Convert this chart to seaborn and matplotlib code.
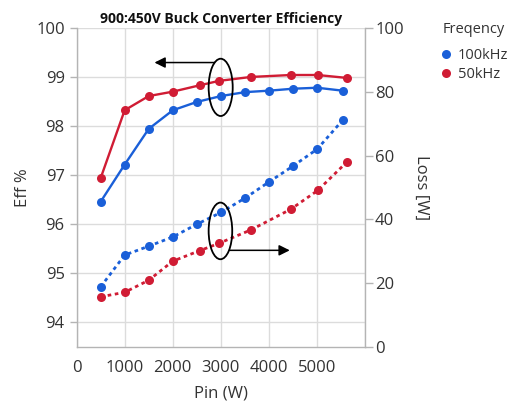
import matplotlib
matplotlib.use('Agg')
import matplotlib.pyplot as plt
import seaborn as sns
import pandas as pd
from matplotlib.patches import Ellipse
from matplotlib.lines import Line2D

# ---- data ----
freqs = ['100kHz', '50kHz']
pin_100 = [500, 1000, 1500, 2000, 2500, 3000, 3500, 4000, 4500, 5000, 5530]
eff_100 = [96.46, 97.22, 97.95, 98.33, 98.50, 98.62, 98.70, 98.73, 98.77, 98.79, 98.73]
loss_100 = [18.8, 28.8, 31.6, 34.5, 38.5, 42.2, 46.7, 51.8, 56.8, 62.1, 71.2]
pin_50 = [500, 1000, 1500, 2000, 2560, 2960, 3620, 4450, 5010, 5620]
eff_50 = [96.94, 98.33, 98.62, 98.71, 98.84, 98.93, 99.01, 99.05, 99.05, 98.99]
loss_50 = [15.7, 17.1, 20.9, 26.9, 30.2, 32.5, 36.7, 43.2, 49.1, 58.1]
x_ticks = [0, 1000, 2000, 3000, 4000, 5000]
eff_ticks = [94, 95, 96, 97, 98, 99, 100]
loss_ticks = [0, 20, 40, 60, 80, 100]

df = pd.concat([
    pd.DataFrame({'Pin': pin_100, 'Eff': eff_100, 'Loss': loss_100, 'Freqency': freqs[0]}),
    pd.DataFrame({'Pin': pin_50, 'Eff': eff_50, 'Loss': loss_50, 'Freqency': freqs[1]}),
], ignore_index=True)

sns.set_style('white')
plt.rcParams['font.family'] = ['Open Sans', 'DejaVu Sans']
palette = {'100kHz': '#1a5fd8', '50kHz': '#d01c34'}
txt = '#333333'
spine_c = '#b4b4b4'

fig = plt.figure(figsize=(5.17, 4.07), dpi=100)
ax = fig.add_axes([0.148, 0.148, 0.7066 - 0.148, 0.930 - 0.148])
ax2 = ax.twinx()

sns.lineplot(data=df, x='Pin', y='Eff', hue='Freqency', palette=palette, marker='o',
             markersize=6.5, markeredgewidth=0, linewidth=1.7, ax=ax, legend=False, sort=False)
sns.lineplot(data=df, x='Pin', y='Loss', hue='Freqency', palette=palette, marker='o',
             markersize=6.5, markeredgewidth=0, linewidth=2.0, linestyle=(0, (1.3, 1.3)),
             ax=ax2, legend=False, sort=False)

ax.set_xlim(0, 6000)
ax.set_ylim(93.5, 100)
ax2.set_ylim(0, 100)
ax.set_xticks(x_ticks + [6000])
ax.set_xticklabels([str(t) for t in x_ticks] + [''])
ax.set_yticks(eff_ticks)
ax2.set_yticks(loss_ticks)

ax.grid(True, color='#dcdcdc', linewidth=1)
ax2.grid(False)
ax.set_axisbelow(True)

for a in (ax, ax2):
    a.spines['top'].set_visible(False)
    for s in ('left', 'right', 'bottom'):
        a.spines[s].set_color(spine_c)
        a.spines[s].set_linewidth(1)
ax.spines['right'].set_visible(False)
ax2.spines['left'].set_visible(False)
ax2.spines['bottom'].set_visible(False)

ax.tick_params(axis='both', labelsize=12, labelcolor=txt, colors=spine_c, length=6, width=1, direction='out')
ax.tick_params(axis='y', length=5)
ax2.tick_params(axis='y', labelsize=12, labelcolor=txt, colors=spine_c, length=6, width=1, pad=1)
for lab in ax.get_xticklabels() + ax.get_yticklabels() + ax2.get_yticklabels():
    lab.set_color(txt)

ax.set_xlabel('Pin (W)', fontsize=12, color=txt, labelpad=7)
ax.set_ylabel('Eff %', fontsize=12, color=txt, labelpad=4)
ax2.set_ylabel('Loss [W]', fontsize=12, color=txt, rotation=270, labelpad=18)
ax.set_title('900:450V Buck Converter Efficiency', fontsize=10, fontweight='bold',
             color='#111111', pad=4)

# annotations (ellipses + arrows) in right-axis coordinates
ax2.add_patch(Ellipse((2995, 81.5), 500, 18, fill=False, edgecolor='black', linewidth=1.3, zorder=5))
ax2.add_patch(Ellipse((2990, 36.4), 490, 17.8, fill=False, edgecolor='black', linewidth=1.3, zorder=5))
ax2.annotate('', xy=(1620, 89.3), xytext=(2870, 89.3),
             arrowprops=dict(arrowstyle='-|>', color='black', lw=1.1, mutation_scale=16,
                             shrinkA=0, shrinkB=0), zorder=5)
ax2.annotate('', xy=(4430, 30.3), xytext=(3180, 30.3),
             arrowprops=dict(arrowstyle='-|>', color='black', lw=1.1, mutation_scale=16,
                             shrinkA=0, shrinkB=0), zorder=5)

handles = [Line2D([], [], linestyle='none', marker='o', markersize=6.5, markeredgewidth=0,
                  color=palette[f]) for f in freqs]
leg = fig.legend(handles, freqs, title='Freqency', loc='upper left',
                 bbox_to_anchor=(0.84, 0.96), frameon=False, fontsize=10.5,
                 title_fontsize=10.5, handlelength=0.8, handletextpad=0.4,
                 labelspacing=0.25, borderaxespad=0)
leg.get_title().set_color(txt)
leg._legend_box.sep = 8
for t in leg.get_texts():
    t.set_color(txt)

fig.savefig('out.png', dpi=100)
